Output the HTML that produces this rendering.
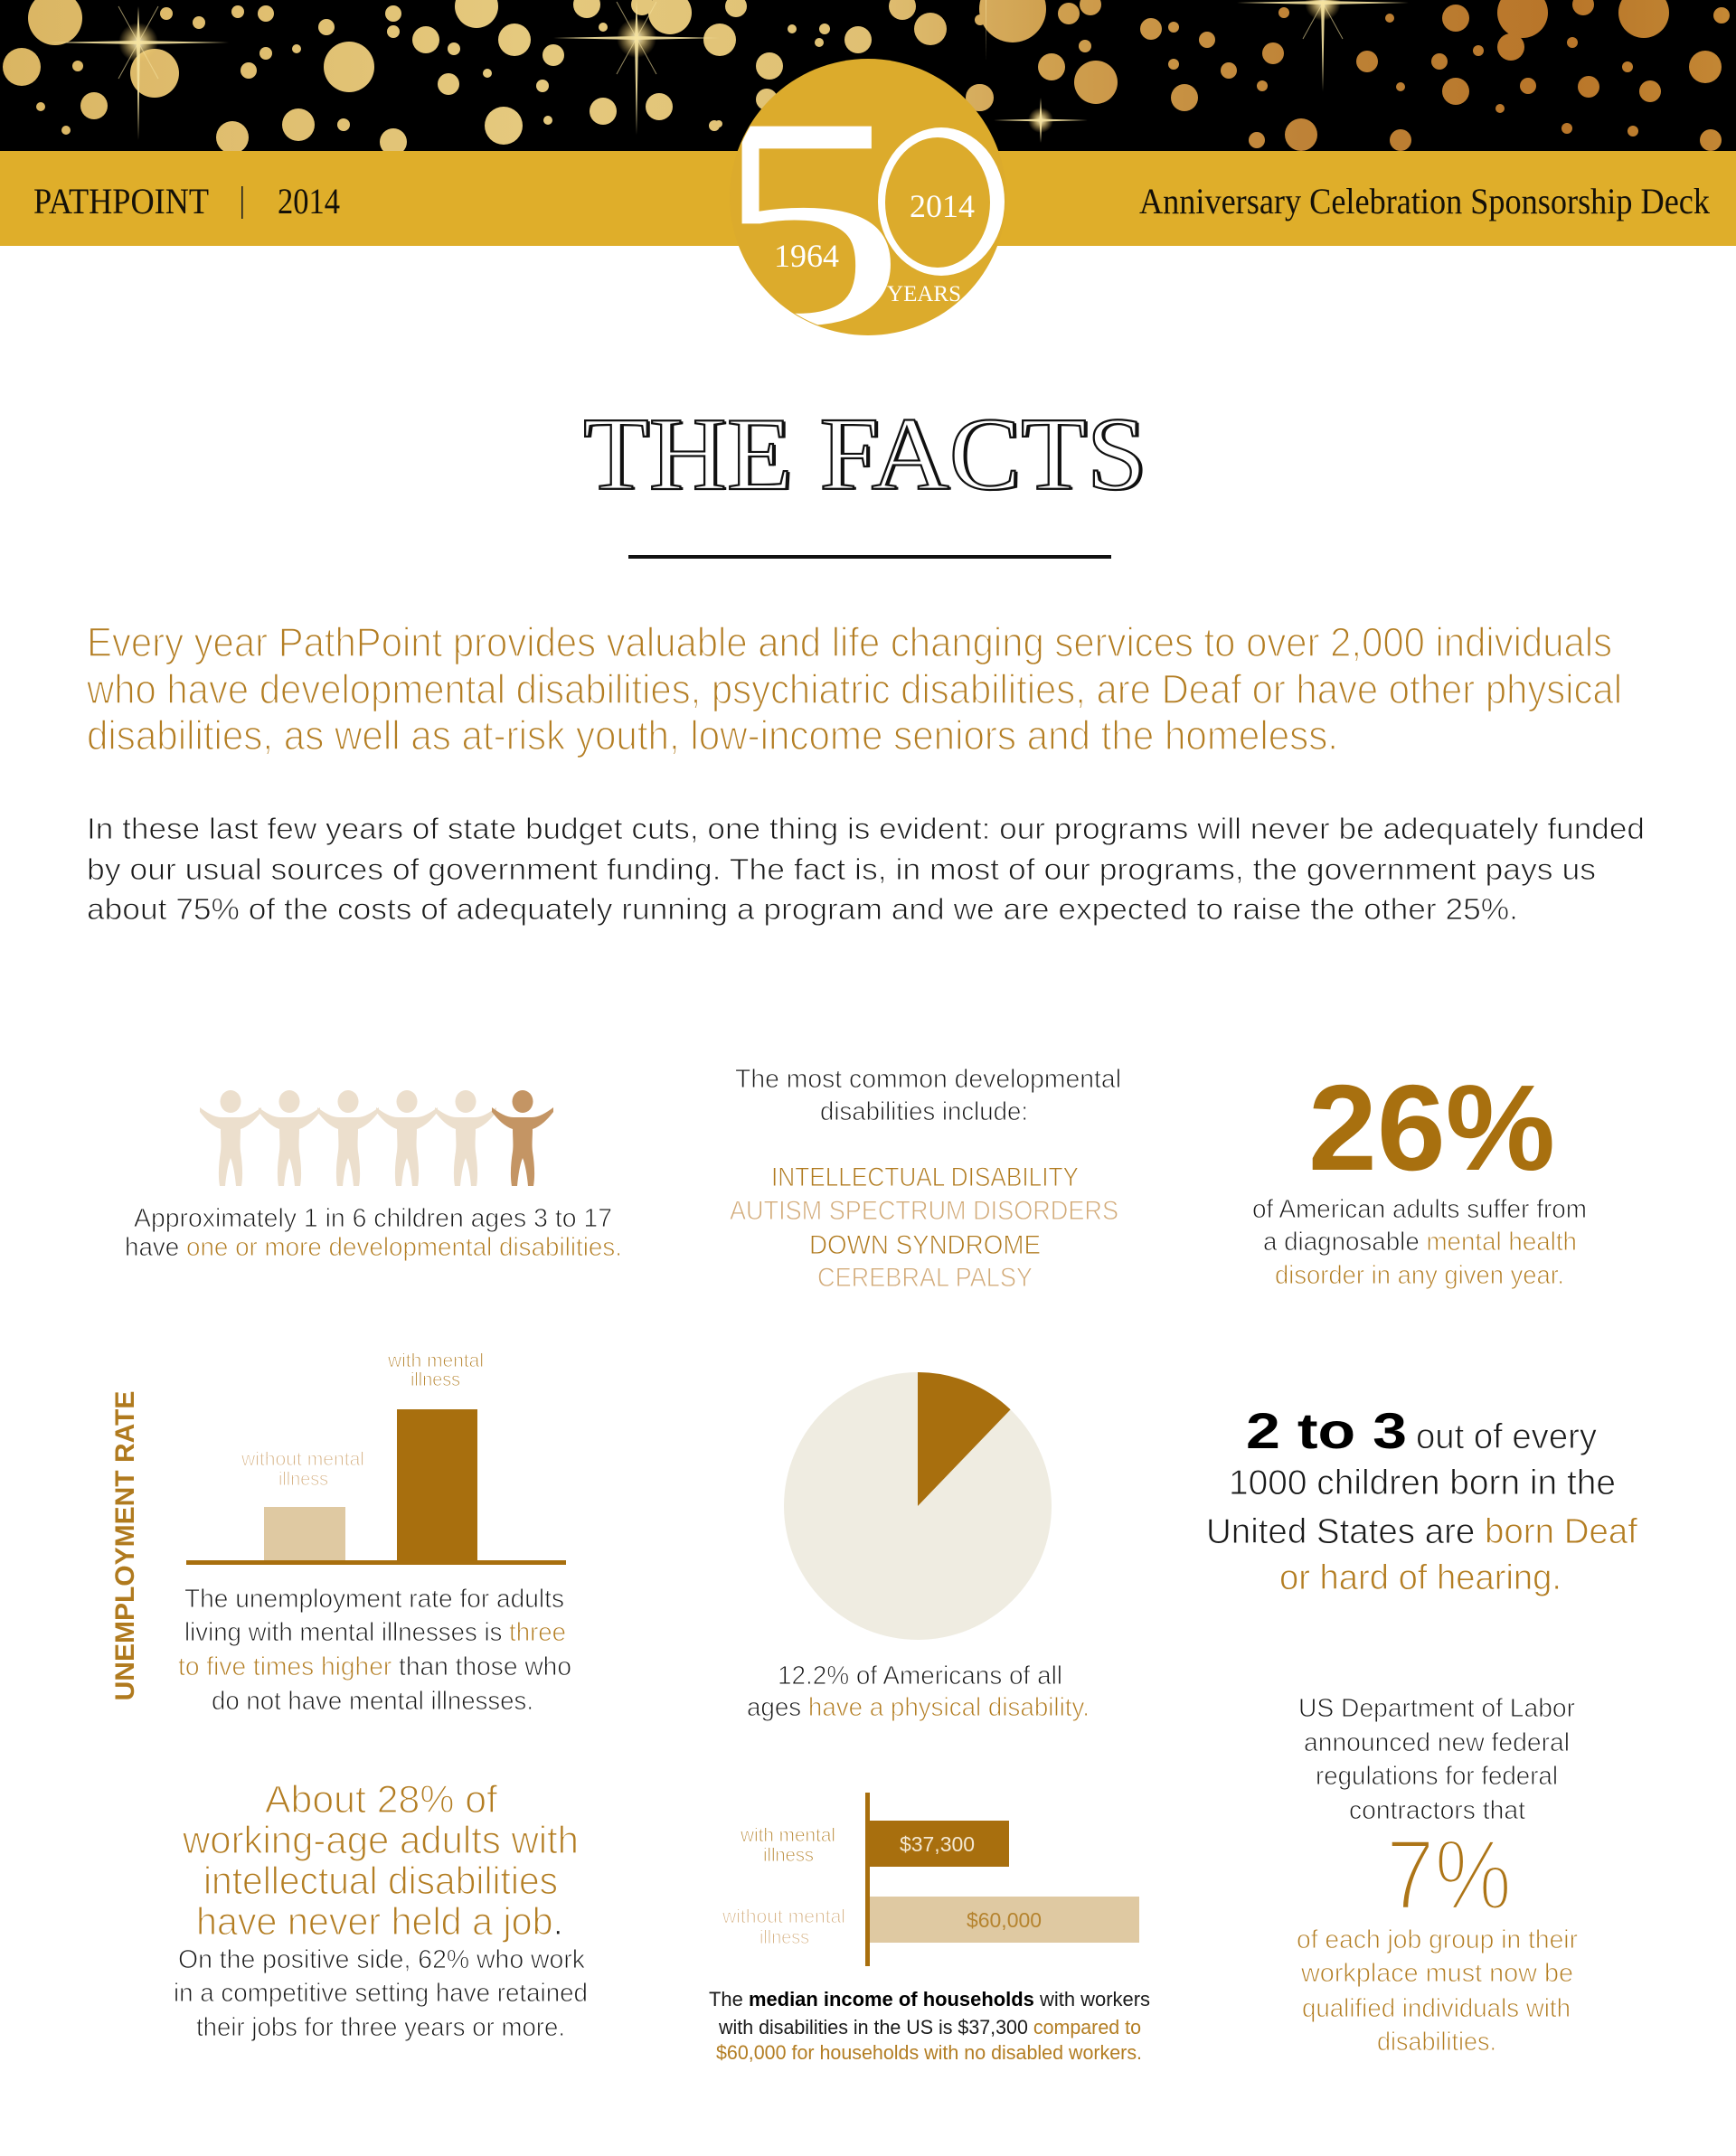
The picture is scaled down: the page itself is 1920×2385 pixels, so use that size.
<!DOCTYPE html>
<html><head><meta charset="utf-8">
<style>
html,body{margin:0;padding:0;background:#fff;}
svg{display:block}
.s{font-family:"Liberation Sans",Arial,sans-serif}
.r{font-family:"Liberation Serif","Times New Roman",serif}
.k{fill:#1a1a1a}
.g{fill:#b37d22}
.t{fill:#d2aa78}
.lt{stroke:#fff;stroke-width:0.9px}
</style></head><body>
<svg width="1920" height="2385" viewBox="0 0 1920 2385" xmlns="http://www.w3.org/2000/svg">
<defs>
<linearGradient id="dotg" gradientUnits="userSpaceOnUse" x1="0" y1="0" x2="1920" y2="0">
<stop offset="0" stop-color="#e6bf68"/><stop offset="0.3" stop-color="#f2d485"/><stop offset="0.5" stop-color="#eccb7a"/><stop offset="0.6" stop-color="#dcaa55"/><stop offset="0.75" stop-color="#c98a3a"/><stop offset="0.9" stop-color="#c27c2c"/><stop offset="1" stop-color="#cf9038"/>
</linearGradient>
<radialGradient id="glow"><stop offset="0" stop-color="#fff6d0" stop-opacity="1"/><stop offset="0.4" stop-color="#f5d98a" stop-opacity="0.7"/><stop offset="1" stop-color="#e8c060" stop-opacity="0"/></radialGradient>
<clipPath id="badgeclip"><circle cx="960" cy="218" r="152"/></clipPath>
<g id="fig">
<ellipse cx="0" cy="12.5" rx="11.5" ry="12.5"/>
<path d="M-34,19 C-26,25 -18,30 -10,30 L10,30 C18,30 26,25 34,19 L34,24 C27,33 20,40 11,43 C11,52 10,60 11,68 C13,80 14,95 12,106 L6,106 C5,95 3,82 0,75 C-3,82 -5,95 -6,106 L-12,106 C-14,95 -13,80 -11,68 C-10,60 -11,52 -11,43 C-20,40 -27,33 -34,24 Z"/>
</g>
</defs>

<!-- black band -->
<rect x="0" y="0" width="1920" height="167" fill="#000"/>
<g fill="url(#dotg)" opacity="0.95">
<circle cx="61" cy="20" r="30"/><circle cx="24" cy="74" r="21"/><circle cx="171" cy="81" r="27"/><circle cx="104" cy="117" r="15"/><circle cx="86" cy="73" r="6"/><circle cx="45" cy="118" r="5"/><circle cx="73" cy="144" r="5"/><circle cx="184" cy="15" r="7"/><circle cx="220" cy="25" r="7"/><circle cx="263" cy="13" r="7"/><circle cx="294" cy="15" r="9"/><circle cx="294" cy="59" r="7"/><circle cx="275" cy="78" r="9"/><circle cx="257" cy="152" r="18"/><circle cx="328" cy="54" r="5"/><circle cx="330" cy="138" r="18"/><circle cx="380" cy="138" r="7"/><circle cx="361" cy="30" r="9"/><circle cx="386" cy="74" r="28"/><circle cx="435" cy="15" r="9"/><circle cx="435" cy="157" r="15"/><circle cx="435" cy="35" r="7"/><circle cx="471" cy="44" r="15"/><circle cx="496" cy="93" r="12"/><circle cx="502" cy="54" r="7"/><circle cx="527" cy="7" r="24"/><circle cx="539" cy="81" r="5"/><circle cx="557" cy="139" r="21"/><circle cx="569" cy="44" r="18"/><circle cx="606" cy="133" r="5"/><circle cx="600" cy="95" r="7"/><circle cx="612" cy="61" r="12"/><circle cx="649" cy="5" r="15"/><circle cx="667" cy="123" r="15"/><circle cx="710" cy="5" r="12"/><circle cx="667" cy="30" r="5"/><circle cx="729" cy="118" r="15"/><circle cx="741" cy="14" r="24"/><circle cx="796" cy="44" r="18"/><circle cx="790" cy="139" r="6"/><circle cx="814" cy="7" r="12"/><circle cx="851" cy="73" r="15"/><circle cx="876" cy="32" r="5"/><circle cx="912" cy="32" r="6"/><circle cx="949" cy="44" r="15"/><circle cx="906" cy="47" r="5"/><circle cx="998" cy="7" r="15"/><circle cx="1029" cy="32" r="18"/><circle cx="1084" cy="22" r="6"/><circle cx="1084" cy="108" r="15"/><circle cx="1120" cy="10" r="37"/><circle cx="1182" cy="15" r="12"/><circle cx="1163" cy="74" r="15"/><circle cx="1212" cy="91" r="24"/><circle cx="1206" cy="5" r="12"/><circle cx="1200" cy="51" r="7"/><circle cx="1273" cy="32" r="12"/><circle cx="1298" cy="30" r="6"/><circle cx="1298" cy="71" r="6"/><circle cx="1310" cy="108" r="15"/><circle cx="1335" cy="44" r="9"/><circle cx="1359" cy="78" r="9"/><circle cx="1396" cy="95" r="6"/><circle cx="1408" cy="59" r="12"/><circle cx="1420" cy="14" r="6"/><circle cx="1390" cy="155" r="9"/><circle cx="1439" cy="149" r="18"/><circle cx="1512" cy="68" r="12"/><circle cx="1537" cy="20" r="5"/><circle cx="1549" cy="155" r="12"/><circle cx="1549" cy="96" r="5"/><circle cx="1592" cy="68" r="9"/><circle cx="1610" cy="20" r="15"/><circle cx="1610" cy="101" r="15"/><circle cx="1635" cy="56" r="6"/><circle cx="1659" cy="120" r="5"/><circle cx="1671" cy="52" r="15"/><circle cx="1690" cy="95" r="9"/><circle cx="1684" cy="14" r="28"/><circle cx="1733" cy="142" r="6"/><circle cx="1739" cy="47" r="6"/><circle cx="1751" cy="5" r="12"/><circle cx="1757" cy="96" r="12"/><circle cx="1800" cy="74" r="6"/><circle cx="1806" cy="145" r="6"/><circle cx="1818" cy="14" r="28"/><circle cx="1825" cy="101" r="12"/><circle cx="1886" cy="74" r="18"/><circle cx="1892" cy="155" r="12"/><circle cx="1904" cy="17" r="9"/><circle cx="848" cy="110" r="12"/><circle cx="1083" cy="108" r="15"/><circle cx="795" cy="137" r="4"/>
</g>
<!-- stars -->
<g fill="#f6e3a0">
<g transform="translate(153,47)"><circle r="22" fill="url(#glow)"/><path d="M-100,0 L0,-2 L100,0 L0,2Z M0,-40 L2,0 L0,108 L-2,0Z" opacity="0.9"/><path d="M-22,-40 L0,0 L22,40 M22,-40 L0,0 L-22,40" stroke="#f6e3a0" stroke-width="1" opacity="0.6"/></g>
<g transform="translate(704,42)"><circle r="22" fill="url(#glow)"/><path d="M-92,0 L0,-2 L92,0 L0,2Z M0,-42 L2,0 L0,107 L-2,0Z" opacity="0.9"/><path d="M-22,-40 L0,0 L22,40 M22,-40 L0,0 L-22,40" stroke="#f6e3a0" stroke-width="1" opacity="0.6"/></g>
<g transform="translate(1151,133)"><circle r="14" fill="url(#glow)"/><path d="M-52,0 L0,-1.5 L52,0 L0,1.5Z M0,-25 L1.5,0 L0,25 L-1.5,0Z" opacity="0.9"/></g>
<g transform="translate(1463,3)"><circle r="20" fill="url(#glow)"/><path d="M-95,0 L0,-2 L95,0 L0,2Z M0,-3 L2,0 L0,98 L-2,0Z" opacity="0.9"/><path d="M0,0 L-22,40 M0,0 L22,40" stroke="#f6e3a0" stroke-width="1" opacity="0.6"/></g>
<path d="M1090,0 L1091,0 L1090.5,68Z" opacity="0.6"/>
</g>

<!-- gold band -->
<rect x="0" y="167" width="1920" height="105" fill="#dfae2a"/>
<text x="37" y="236" class="r" font-size="40" fill="#141008" textLength="194" lengthAdjust="spacingAndGlyphs">PATHPOINT</text>
<rect x="267" y="206" width="1.6" height="36" fill="#222"/>
<text x="307" y="236" class="r" font-size="40" fill="#141008" textLength="69" lengthAdjust="spacingAndGlyphs">2014</text>
<text x="1260" y="236" class="r" font-size="40" fill="#141008" textLength="631" lengthAdjust="spacingAndGlyphs">Anniversary Celebration Sponsorship Deck</text>

<!-- badge -->
<circle cx="960" cy="218" r="153" fill="#dcab2c"/>
<g clip-path="url(#badgeclip)">
<text transform="translate(786,357) scale(1.3,1)" class="r" font-size="332" fill="#fff">5</text>
</g>
<ellipse cx="1041" cy="223" rx="70" ry="82" fill="#fff"/>
<ellipse cx="1037" cy="224" rx="58" ry="72" fill="#dcab2c"/>
<text x="1042" y="240" class="r" font-size="36" fill="#fff" text-anchor="middle">2014</text>
<text x="892" y="295" class="r" font-size="36" fill="#fff" text-anchor="middle">1964</text>
<text x="1022" y="333" class="r" font-size="25" fill="#fff" text-anchor="middle">YEARS</text>

<!-- title -->
<text x="648" y="542" class="r" font-size="115" fill="#111" textLength="623" lengthAdjust="spacingAndGlyphs">THE FACTS</text>
<text x="645" y="541" class="r" font-size="115" fill="#fff" stroke="#111" stroke-width="2.2" textLength="623" lengthAdjust="spacingAndGlyphs">THE FACTS</text>
<rect x="695" y="614" width="534" height="4" fill="#111"/>

<!-- gold paragraph -->
<g class="s g" font-size="45" stroke="#fff" stroke-width="1.5">
<text x="96" y="726" textLength="1687" lengthAdjust="spacingAndGlyphs">Every year PathPoint provides valuable and life changing services to over 2,000 individuals</text>
<text x="96" y="778" textLength="1698" lengthAdjust="spacingAndGlyphs">who have developmental disabilities, psychiatric disabilities, are Deaf or have other physical</text>
<text x="96" y="829" textLength="1384" lengthAdjust="spacingAndGlyphs">disabilities, as well as at-risk youth, low-income seniors and the homeless.</text>
</g>
<!-- black paragraph -->
<g class="s k lt" font-size="33" stroke-width="1">
<text x="96" y="928" textLength="1723" lengthAdjust="spacingAndGlyphs">In these last few years of state budget cuts, one thing is evident: our programs will never be adequately funded</text>
<text x="96" y="973" textLength="1669" lengthAdjust="spacingAndGlyphs">by our usual sources of government funding.  The fact is, in most of our programs, the government pays us</text>
<text x="96" y="1017" textLength="1583" lengthAdjust="spacingAndGlyphs">about 75% of the costs of adequately running a program and we are expected to raise the other 25%.</text>
</g>

<!-- figures -->
<use href="#fig" x="255" y="1206" fill="#ecdfcd"/>
<use href="#fig" x="320" y="1206" fill="#ecdfcd"/>
<use href="#fig" x="385" y="1206" fill="#ecdfcd"/>
<use href="#fig" x="450" y="1206" fill="#ecdfcd"/>
<use href="#fig" x="515" y="1206" fill="#ecdfcd"/>
<use href="#fig" x="578" y="1206" fill="#c49564"/>

<g class="s k lt" font-size="29">
<text x="148" y="1357" textLength="529" lengthAdjust="spacingAndGlyphs">Approximately 1 in 6 children ages 3 to 17</text>
<text x="138" y="1389" textLength="550" lengthAdjust="spacingAndGlyphs">have <tspan class="g">one or more developmental disabilities.</tspan></text>

<text x="813" y="1203" textLength="427" lengthAdjust="spacingAndGlyphs">The most common developmental</text>
<text x="907" y="1239" textLength="230" lengthAdjust="spacingAndGlyphs">disabilities include:</text>
<text x="853" y="1312" font-size="30" fill="#b07a1e" textLength="340" lengthAdjust="spacingAndGlyphs">INTELLECTUAL DISABILITY</text>
<text x="807" y="1349" font-size="30" class="t" textLength="430" lengthAdjust="spacingAndGlyphs">AUTISM SPECTRUM DISORDERS</text>
<text x="895" y="1387" font-size="30" fill="#b07a1e" textLength="256" lengthAdjust="spacingAndGlyphs">DOWN SYNDROME</text>
<text x="904" y="1423" font-size="30" class="t" textLength="238" lengthAdjust="spacingAndGlyphs">CEREBRAL PALSY</text>

<text x="1385" y="1347" textLength="370" lengthAdjust="spacingAndGlyphs">of American adults suffer from</text>
<text x="1397" y="1383" textLength="347" lengthAdjust="spacingAndGlyphs">a diagnosable <tspan class="g">mental health</tspan></text>
<text x="1410" y="1420" class="g" textLength="320" lengthAdjust="spacingAndGlyphs">disorder in any given year.</text>
</g>
<text x="1447" y="1294" class="s" font-size="135" font-weight="bold" fill="#a8700f" textLength="273" lengthAdjust="spacingAndGlyphs">26%</text>

<!-- unemployment chart -->
<text transform="translate(148,1710) rotate(-90)" class="s" font-size="30" font-weight="bold" fill="#b07a1e" text-anchor="middle">UNEMPLOYMENT RATE</text>
<rect x="292" y="1667" width="90" height="60" fill="#dfc9a2"/>
<rect x="439" y="1559" width="89" height="172" fill="#a86f0e"/>
<rect x="206" y="1726" width="420" height="5" fill="#a86f0e"/>
<g class="s lt" font-size="21" stroke-width="0.6">
<text x="429" y="1512" fill="#b07a1e" textLength="106" lengthAdjust="spacingAndGlyphs">with mental</text>
<text x="454" y="1533" fill="#b07a1e" textLength="55" lengthAdjust="spacingAndGlyphs">illness</text>
<text x="267" y="1621" class="t" textLength="136" lengthAdjust="spacingAndGlyphs">without mental</text>
<text x="308" y="1643" class="t" textLength="55" lengthAdjust="spacingAndGlyphs">illness</text>
</g>
<g class="s k lt" font-size="29">
<text x="204" y="1778" textLength="420" lengthAdjust="spacingAndGlyphs">The unemployment rate for adults</text>
<text x="204" y="1815" textLength="422" lengthAdjust="spacingAndGlyphs">living with mental illnesses is <tspan class="g">three</tspan></text>
<text x="197" y="1853" textLength="435" lengthAdjust="spacingAndGlyphs"><tspan class="g">to five times higher</tspan> than those who</text>
<text x="234" y="1891" textLength="356" lengthAdjust="spacingAndGlyphs">do not have mental illnesses.</text>
</g>

<!-- pie -->
<circle cx="1015" cy="1666" r="148" fill="#efece1"/>
<path d="M1015,1666 L1015,1518 A148,148 0 0,1 1117.6,1559.3 Z" fill="#a86f0e"/>
<g class="s k lt" font-size="29">
<text x="860" y="1863" textLength="315" lengthAdjust="spacingAndGlyphs">12.2% of Americans of all</text>
<text x="826" y="1898" textLength="379" lengthAdjust="spacingAndGlyphs">ages <tspan class="g">have a physical disability.</tspan></text>
</g>

<!-- 2 to 3 -->
<text x="1378" y="1602" class="s" font-size="56" font-weight="bold" fill="#000" textLength="178" lengthAdjust="spacingAndGlyphs">2 to 3</text>
<g class="s k lt" font-size="39" stroke-width="1.1">
<text x="1566" y="1602" textLength="200" lengthAdjust="spacingAndGlyphs">out of every</text>
<text x="1359" y="1653" textLength="428" lengthAdjust="spacingAndGlyphs">1000 children born in the</text>
<text x="1334" y="1707" textLength="477" lengthAdjust="spacingAndGlyphs">United States are <tspan class="g">born Deaf</tspan></text>
<text x="1415" y="1758" class="g" textLength="312" lengthAdjust="spacingAndGlyphs">or hard of hearing.</text>
</g>

<!-- About 28% -->
<g class="s g" font-size="43" stroke="#fff" stroke-width="1.3">
<text x="293" y="2005" textLength="257" lengthAdjust="spacingAndGlyphs">About 28% of</text>
<text x="202" y="2050" textLength="438" lengthAdjust="spacingAndGlyphs">working-age adults with</text>
<text x="225" y="2095" textLength="392" lengthAdjust="spacingAndGlyphs">intellectual disabilities</text>
<text x="217" y="2140" textLength="406" lengthAdjust="spacingAndGlyphs">have never held a job<tspan class="k">.</tspan></text>
</g>
<g class="s k lt" font-size="29">
<text x="197" y="2177" textLength="450" lengthAdjust="spacingAndGlyphs">On the positive side, 62% who work</text>
<text x="192" y="2214" textLength="458" lengthAdjust="spacingAndGlyphs">in a competitive setting have retained</text>
<text x="217" y="2252" textLength="408" lengthAdjust="spacingAndGlyphs">their jobs for three years or more.</text>
</g>

<!-- bar chart -->
<rect x="962" y="2014" width="154" height="51" fill="#a86f0e"/>
<rect x="962" y="2098" width="298" height="51" fill="#dfc9a2"/>
<rect x="957" y="1983" width="5" height="192" fill="#a86f0e"/>
<g class="s" font-size="23">
<text x="995" y="2048" fill="#f4e8d2" textLength="83" lengthAdjust="spacingAndGlyphs">$37,300</text>
<text x="1069" y="2132" fill="#b5832e" textLength="83" lengthAdjust="spacingAndGlyphs">$60,000</text>
</g>
<g class="s lt" font-size="21" stroke-width="0.6">
<text x="819" y="2037" fill="#b07a1e" textLength="105" lengthAdjust="spacingAndGlyphs">with mental</text>
<text x="844" y="2059" fill="#b07a1e" textLength="56" lengthAdjust="spacingAndGlyphs">illness</text>
<text x="799" y="2127" class="t" textLength="136" lengthAdjust="spacingAndGlyphs">without mental</text>
<text x="840" y="2150" class="t" textLength="55" lengthAdjust="spacingAndGlyphs">illness</text>
</g>
<g class="s k" font-size="22">
<text x="784" y="2219" textLength="488" lengthAdjust="spacingAndGlyphs">The <tspan font-weight="bold" fill="#000">median income of households</tspan> with workers</text>
<text x="795" y="2250" textLength="467" lengthAdjust="spacingAndGlyphs">with disabilities in the US is $37,300 <tspan class="g">compared to</tspan></text>
<text x="792" y="2278" class="g" textLength="471" lengthAdjust="spacingAndGlyphs">$60,000 for households with no disabled workers.</text>
</g>

<!-- right bottom -->
<g class="s k lt" font-size="29">
<text x="1436" y="1899" textLength="306" lengthAdjust="spacingAndGlyphs">US Department of Labor</text>
<text x="1442" y="1937" textLength="294" lengthAdjust="spacingAndGlyphs">announced new federal</text>
<text x="1455" y="1974" textLength="268" lengthAdjust="spacingAndGlyphs">regulations for federal</text>
<text x="1492" y="2012" textLength="195" lengthAdjust="spacingAndGlyphs">contractors that</text>
<text x="1434" y="2155" class="g" textLength="311" lengthAdjust="spacingAndGlyphs">of each job group in their</text>
<text x="1439" y="2192" class="g" textLength="301" lengthAdjust="spacingAndGlyphs">workplace must now be</text>
<text x="1440" y="2231" class="g" textLength="297" lengthAdjust="spacingAndGlyphs">qualified individuals with</text>
<text x="1523" y="2268" class="g" textLength="132" lengthAdjust="spacingAndGlyphs">disabilities.</text>
</g>
<text x="1533" y="2112" class="s" font-size="110" fill="#ad7517" stroke="#fff" stroke-width="4" textLength="139" lengthAdjust="spacingAndGlyphs">7%</text>
</svg>
</body></html>
